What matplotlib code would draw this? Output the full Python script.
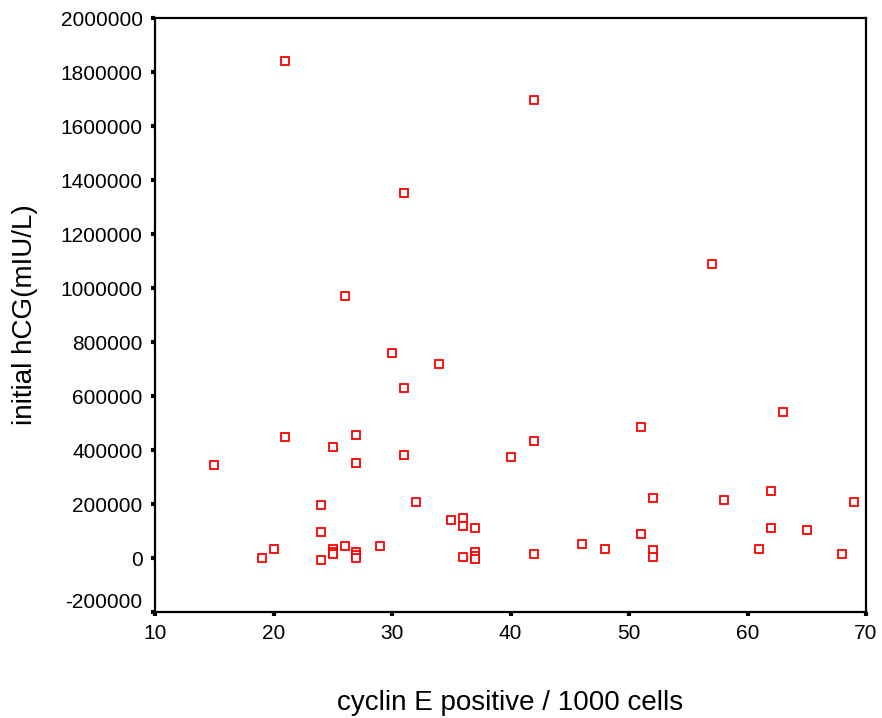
import matplotlib
matplotlib.use("Agg")
import matplotlib.pyplot as plt
import matplotlib.transforms as mtransforms

plt.rcParams['font.family'] = ['Liberation Sans', 'DejaVu Sans']

cyclin_e = [15, 19, 20, 21, 21, 24, 24, 24, 25, 25, 25, 25, 26, 26, 27, 27, 27, 27, 27,
            29, 30, 31, 31, 31, 32, 34, 35, 36, 36, 36, 37, 37, 37, 37, 40, 42, 42, 42,
            46, 48, 51, 51, 52, 52, 52, 57, 58, 61, 62, 62, 63, 65, 68, 69]
hcg = [345000, 1000, 32000, 1840000, 448000, 198000, 96000, -6000, 411000, 35000, 24000, 13000,
       972000, 46000, 455000, 352000, 22000, 10000, 0,
       46000, 761000, 1353000, 630000, 380000, 207000, 718000, 141000, 150000, 119000, 4000,
       111000, 21000, 9000, -3000, 374000, 1695000, 434000, 16000,
       53000, 32000, 486000, 89000, 221000, 31000, 3000, 1090000, 214000, 32000, 250000, 111000,
       542000, 104000, 16000, 207000]

x_ticks = [10, 20, 30, 40, 50, 60, 70]
y_ticks = list(range(-200000, 2000001, 200000))

fig = plt.figure(figsize=(8.82, 7.18), dpi=100)
ax = fig.add_axes([155/882, 1-612/718, (866-155)/882, (612-18)/718])

ax.plot(cyclin_e, hcg, linestyle='none', marker='s', markersize=5.2,
        markerfacecolor='white', markeredgecolor='#ff0000', markeredgewidth=1.3)

ax.set_xlim(10, 70)
ax.set_ylim(-200000, 2000000)
ax.set_xticks(x_ticks)
ax.set_xticklabels([str(v) for v in x_ticks])
ax.set_yticks(y_ticks)
ax.set_yticklabels([str(v) for v in y_ticks])

for s in ax.spines.values():
    s.set_linewidth(1.6)
    s.set_color('black')

ax.tick_params(axis='both', direction='out', length=3, width=3, labelsize=15, colors='black')
ax.tick_params(axis='x', pad=5.5)
ax.tick_params(axis='y', pad=6)

# lift the lowest y label slightly as in the reference
lbl = ax.get_yticklabels()[0]
lbl.set_transform(lbl.get_transform() + mtransforms.ScaledTranslation(0, 11/100, fig.dpi_scale_trans))

ax.set_ylabel('initial hCG(mIU/L)', fontsize=20, labelpad=16)
ax.set_xlabel('cyclin E positive / 1000 cells', fontsize=20, labelpad=34)

fig.savefig('out.png', dpi=100)
